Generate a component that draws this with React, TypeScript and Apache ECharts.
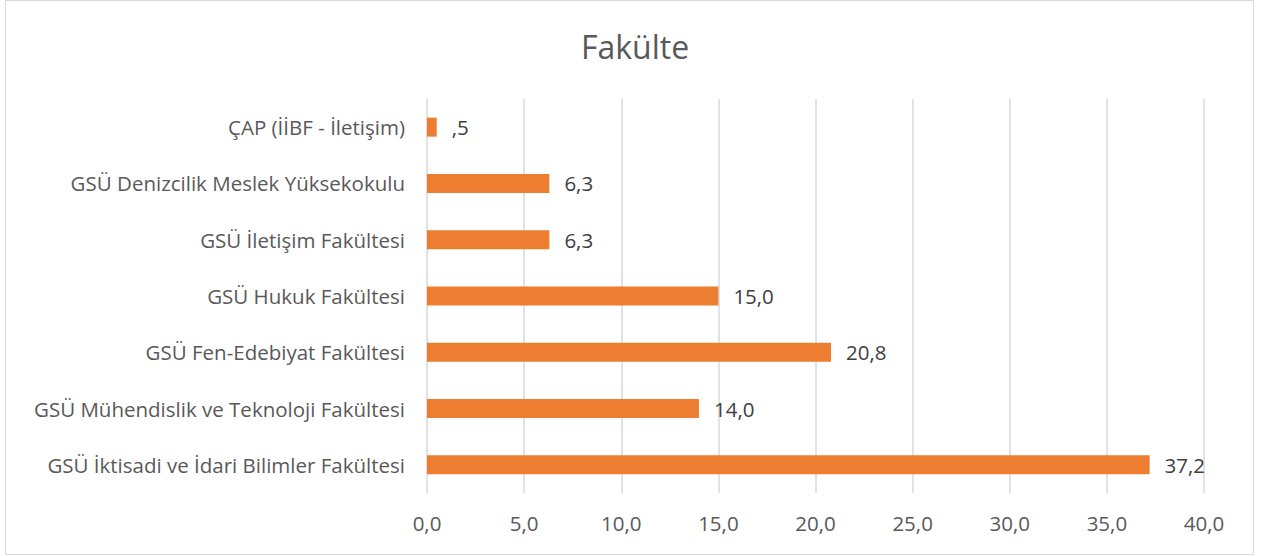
import React, { useEffect, useRef } from "react";
import * as echarts from "echarts";

const categories = [
  "GSÜ İktisadi ve İdari Bilimler Fakültesi",
  "GSÜ Mühendislik ve Teknoloji Fakültesi",
  "GSÜ Fen-Edebiyat Fakültesi",
  "GSÜ Hukuk Fakültesi",
  "GSÜ İletişim Fakültesi",
  "GSÜ Denizcilik Meslek Yüksekokulu",
  "ÇAP (İİBF - İletişim)",
];
const values = [37.2, 14.0, 20.8, 15.0, 6.3, 6.3, 0.5];
const titleText = "Fakülte";

const FONT = "'Open Sans', 'Noto Sans', sans-serif";
const TEXT = "#595959";

function fmt(v: number, stripZero: boolean) {
  let s = v.toFixed(1).replace(".", ",");
  if (stripZero && s.startsWith("0,")) s = s.slice(1);
  return s;
}

export default function App() {
  const ref = useRef<HTMLDivElement>(null);
  useEffect(() => {
    if (!ref.current) return;
    const chart = echarts.init(ref.current, null, { renderer: "svg" });
    chart.setOption({
      animation: false,
      backgroundColor: "#ffffff",
      title: {
        text: titleText,
        left: 630,
        top: 25,
        textAlign: "center",
        textStyle: { fontFamily: FONT, fontSize: 32, fontWeight: "normal", color: TEXT },
      },
      graphic: [
        {
          type: "rect",
          shape: { x: 5.5, y: 0.5, width: 1248, height: 554 },
          style: { fill: "none", stroke: "#d9d9d9", lineWidth: 1 },
          silent: true,
        },
      ],
      grid: { left: 427, right: 60, top: 99, bottom: 63 },
      xAxis: {
        type: "value",
        min: 0,
        max: 40,
        interval: 5,
        axisLine: { show: false },
        axisTick: { show: false },
        splitLine: { show: true, lineStyle: { color: "#d9d9d9", width: 1.5 } },
        axisLabel: {
          margin: 19,
          fontFamily: FONT,
          fontSize: 20.5,
          color: TEXT,
          formatter: (v: number) => fmt(v, false),
        },
      },
      yAxis: {
        type: "category",
        data: categories,
        axisLine: { show: false },
        axisTick: { show: false },
        splitLine: { show: false },
        axisLabel: { margin: 22, fontFamily: FONT, fontSize: 20.5, color: TEXT },
      },
      series: [
        {
          type: "bar",
          data: values,
          barWidth: 19,
          itemStyle: { color: "#ED7D31" },
          label: {
            show: true,
            position: "right",
            distance: 15,
            fontFamily: FONT,
            fontSize: 20.5,
            color: "#404040",
            formatter: (p: any) => fmt(p.value, true),
          },
        },
      ],
    });
    return () => chart.dispose();
  }, []);
  return (
    <div
      ref={ref}
      style={{ position: "fixed", left: 0, top: 0, width: 1264, height: 556 }}
    />
  );
}
